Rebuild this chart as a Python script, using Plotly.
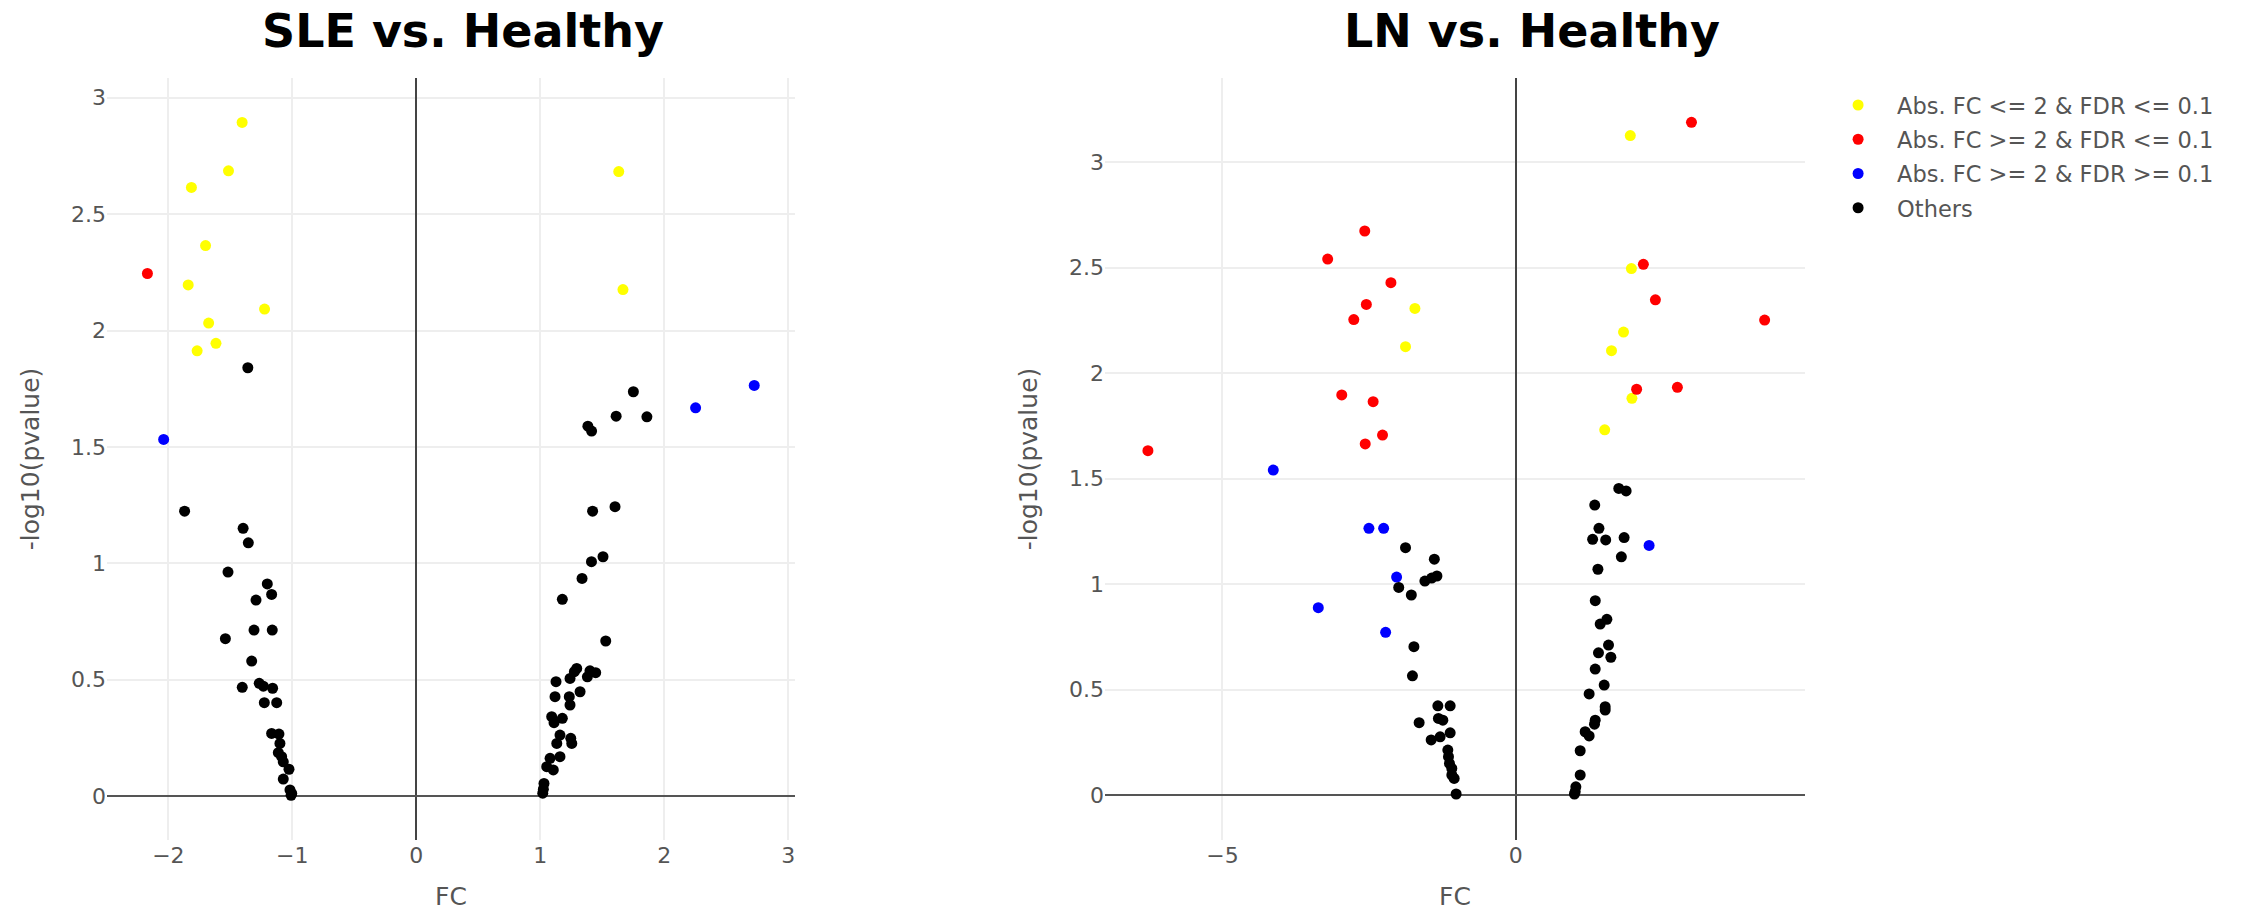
import plotly.graph_objects as go

# ---------------- data: SLE vs. Healthy ----------------
sle_yellow_fc = [-1.405, -1.515, -1.814, -1.70, -1.84, -1.224, -1.675, -1.616, -1.768, 1.633, 1.667]
sle_yellow_p = [2.894, 2.686, 2.615, 2.365, 2.196, 2.092, 2.032, 1.945, 1.913, 2.683, 2.176]
sle_red_fc = [-2.169]
sle_red_p = [2.245]
sle_blue_fc = [-2.038, 2.253, 2.726]
sle_blue_p = [1.532, 1.668, 1.764]
sle_black_fc = [-1.359, -1.869, -1.397, -1.355, -1.519, -1.202, -1.167, -1.293, -1.309, -1.162,
                -1.540, -1.328, -1.404, -1.267, -1.234, -1.159, -1.226, -1.126, -1.167, -1.108,
                -1.100, -1.113, -1.086, -1.073, -1.027, -1.073, -1.019, -1.005, -1.010,
                1.751, 1.612, 1.860, 1.384, 1.414, 1.603, 1.422, 1.506, 1.413, 1.337,
                1.178, 1.528, 1.294, 1.275, 1.401, 1.447, 1.380, 1.240, 1.127, 1.321,
                1.234, 1.119, 1.240, 1.092, 1.178, 1.111, 1.159, 1.246, 1.254, 1.133,
                1.159, 1.079, 1.052, 1.105, 1.030, 1.025, 1.020]
sle_black_p = [1.840, 1.224, 1.150, 1.088, 0.962, 0.911, 0.866, 0.842, 0.713, 0.713,
               0.676, 0.580, 0.467, 0.484, 0.472, 0.463, 0.401, 0.401, 0.269, 0.266,
               0.226, 0.186, 0.169, 0.147, 0.115, 0.073, 0.026, 0.011, 0.003,
               1.737, 1.632, 1.629, 1.589, 1.568, 1.243, 1.224, 1.028, 1.007, 0.935,
               0.845, 0.666, 0.548, 0.534, 0.538, 0.530, 0.512, 0.505, 0.491, 0.448,
               0.427, 0.427, 0.391, 0.341, 0.334, 0.315, 0.262, 0.248, 0.226, 0.226,
               0.169, 0.162, 0.126, 0.112, 0.054, 0.029, 0.012]

# ---------------- data: LN vs. Healthy ----------------
ln_yellow_fc = [1.952, 1.971, -1.719, -1.879, 1.837, 1.632, 1.980, 1.516]
ln_yellow_p = [3.125, 2.495, 2.306, 2.125, 2.194, 2.106, 1.880, 1.731]
ln_red_fc = [2.995, -2.574, -3.206, -2.128, -2.547, -2.761, 2.175, 2.380, 4.242, 2.755,
             2.060, -2.966, -2.431, -2.271, -2.566, -6.27]
ln_red_p = [3.188, 2.673, 2.540, 2.428, 2.325, 2.253, 2.515, 2.347, 2.251, 1.932,
            1.923, 1.896, 1.864, 1.706, 1.664, 1.632]
ln_blue_fc = [-4.133, -2.503, -2.252, 2.273, -2.031, -3.366, -2.218]
ln_blue_p = [1.540, 1.264, 1.264, 1.183, 1.033, 0.888, 0.771]
ln_black_fc = [-1.879, -1.388, -1.344, -1.433, -1.549, -1.995, -1.780, -1.736, -1.761, -1.328,
               -1.118, -1.318, -1.243, -1.647, -1.118, -1.289, -1.442, -1.158, -1.147, -1.130,
               -1.090, -1.090, -1.050, -1.016,
               1.756, 1.881, 1.346, 1.418, 1.310, 1.533, 1.847, 1.800, 1.400, 1.355,
               1.553, 1.439, 1.581, 1.410, 1.621, 1.354, 1.507, 1.251, 1.524, 1.524,
               1.354, 1.342, 1.183, 1.251, 1.098, 1.098, 1.024, 1.013, 1.000]
ln_black_p = [1.172, 1.118, 1.038, 1.028, 1.014, 0.984, 0.948, 0.703, 0.565, 0.423,
              0.423, 0.363, 0.355, 0.343, 0.295, 0.276, 0.261, 0.213, 0.182, 0.150,
              0.126, 0.095, 0.079, 0.005,
              1.453, 1.441, 1.374, 1.264, 1.212, 1.209, 1.220, 1.129, 1.070, 0.921,
              0.833, 0.810, 0.711, 0.674, 0.653, 0.597, 0.521, 0.479, 0.419, 0.403,
              0.355, 0.336, 0.300, 0.280, 0.210, 0.095, 0.039, 0.016, 0.005]

legend_names = ["Abs. FC <= 2 & FDR <= 0.1", "Abs. FC >= 2 & FDR <= 0.1",
                "Abs. FC >= 2 & FDR >= 0.1", "Others"]
colors = ["#ffff00", "#ff0000", "#0000ff", "#000000"]
titles = ["SLE vs. Healthy", "LN vs. Healthy"]

fig = go.Figure()

panels = [
    ("x", "y", [(sle_yellow_fc, sle_yellow_p), (sle_red_fc, sle_red_p),
                (sle_blue_fc, sle_blue_p), (sle_black_fc, sle_black_p)], True),
    ("x2", "y2", [(ln_yellow_fc, ln_yellow_p), (ln_red_fc, ln_red_p),
                  (ln_blue_fc, ln_blue_p), (ln_black_fc, ln_black_p)], False),
]
for xa, ya, series, first in panels:
    for (xs, ys), name, col in zip(series, legend_names, colors):
        fig.add_trace(go.Scatter(
            x=xs, y=ys, mode="markers", name=name, legendgroup=name,
            showlegend=not first,
            marker=dict(color=col, size=11, line=dict(width=0)),
            xaxis=xa, yaxis=ya,
        ))

FONT = "DejaVu Sans"
tickfont = dict(family=FONT, size=22, color="#555")
titlefont = dict(family=FONT, size=25, color="#555")
common = dict(showgrid=True, gridcolor="#eeeeee", gridwidth=2, zeroline=True,
              showline=False, ticks="", tickfont=tickfont, automargin=False)

fig.update_layout(
    width=2241, height=914,
    margin=dict(l=107, r=436, t=78, b=74),
    paper_bgcolor="white", plot_bgcolor="white",
    font=dict(family=FONT, color="#444"),
    xaxis=dict(domain=[0, 0.4052], range=[-2.495, 3.055], dtick=1, anchor="y",
               zerolinecolor="#444", zerolinewidth=1.5,
               title=dict(text="FC", font=titlefont, standoff=20), **common),
    yaxis=dict(domain=[0, 1], range=[-0.189, 3.085], dtick=0.5, anchor="x",
               zerolinecolor="#555", zerolinewidth=2,
               title=dict(text="-log10(pvalue)", font=titlefont, standoff=24), **common),
    xaxis2=dict(domain=[0.5878, 1], range=[-7.0, 4.93], dtick=5, anchor="y2",
                zerolinecolor="#444", zerolinewidth=1.5,
                title=dict(text="FC", font=titlefont, standoff=20), **common),
    yaxis2=dict(domain=[0, 1], range=[-0.213, 3.398], dtick=0.5, anchor="x2",
                zerolinecolor="#555", zerolinewidth=2,
                title=dict(text="-log10(pvalue)", font=titlefont, standoff=24), **common),
    legend=dict(x=1.0083, y=0.9923, xanchor="left", yanchor="top",
                itemwidth=68, font=dict(family=FONT, size=22.5, color="#555"),
                bgcolor="rgba(0,0,0,0)", tracegroupgap=2),
    annotations=[
        dict(text="<b>" + titles[0] + "</b>", x=0.2097, y=1.0617, xref="paper", yref="paper",
             xanchor="center", yanchor="middle", showarrow=False,
             font=dict(family=FONT, size=46, color="#000")),
        dict(text="<b>" + titles[1] + "</b>", x=0.839, y=1.0617, xref="paper", yref="paper",
             xanchor="center", yanchor="middle", showarrow=False,
             font=dict(family=FONT, size=46, color="#000")),
    ],
)

fig.write_html("out.html", config={"displayModeBar": False},
               post_script="document.body.style.margin='0';")
